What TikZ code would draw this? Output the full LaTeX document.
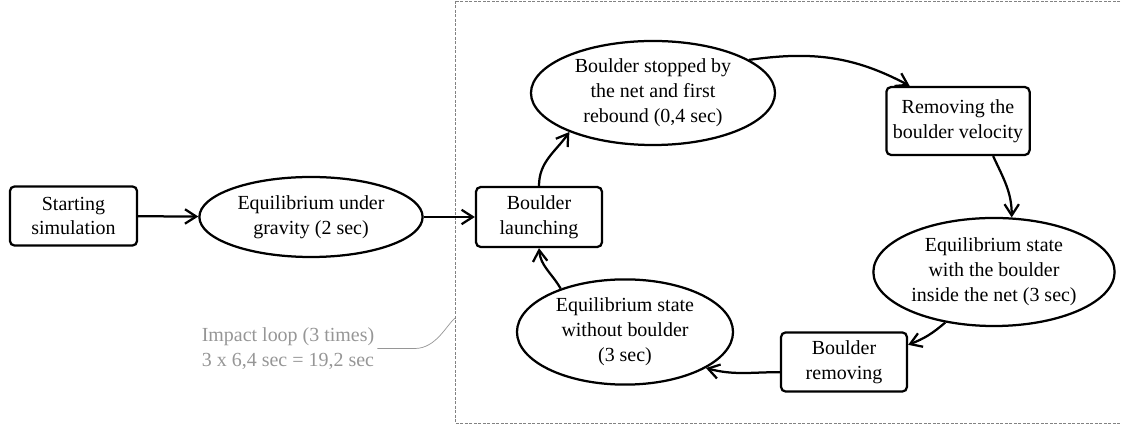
\documentclass[tikz,border=0pt]{standalone}
\usepackage{fontspec}
\setmainfont{Liberation Serif}
\usetikzlibrary{shapes.geometric,arrows.meta}

\definecolor{notegray}{RGB}{150,150,150}
\definecolor{framegray}{RGB}{130,130,130}

\begin{document}
\begin{tikzpicture}[x=0.025cm, y=-0.025cm,
    font=\fontsize{14.2}{17.7}\selectfont,
    stage/.style={rectangle, draw, line width=1.6pt, rounded corners=0.12cm, align=center, inner sep=0pt},
    state/.style={ellipse, draw, line width=1.6pt, align=center, inner sep=0pt},
    flow/.style={line width=1.6pt, -{Straight Barb[length=2.8mm,width=3.6mm]}}]
    \useasboundingbox (0,0) rectangle (1121,425);

    % impact loop frame
    \draw[framegray, line width=0.6pt, dash pattern=on 2pt off 1.2pt] (455,1) rectangle (1126,423);

                    \node (start) at (73.5,216) [stage, minimum width=3.18cm, minimum height=1.48cm] {Starting\\simulation};
                    \node (gravity) at (311,217) [state, minimum width=5.58cm, minimum height=2.0cm] {Equilibrium under\\gravity (2 sec)};
                    \node (launch) at (539,217) [stage, minimum width=3.15cm, minimum height=1.5cm] {Boulder\\launching};
                    \node (stopped) at (653,93) [state, minimum width=6.1cm, minimum height=2.6cm] {Boulder stopped by\\the net and first\\rebound (0,4 sec)};
                    \node (velocity) at (958,121) [stage, minimum width=3.58cm, minimum height=1.7cm] {Removing the\\boulder velocity};
                    \node (inside) at (994,272) [state, minimum width=6.03cm, minimum height=2.7cm] {Equilibrium state\\with the boulder\\inside the net (3 sec)};
                    \node (removing) at (844,362) [stage, minimum width=3.15cm, minimum height=1.48cm] {Boulder\\removing};
                    \node (without) at (625,332) [state, minimum width=5.4cm, minimum height=2.63cm] {Equilibrium state\\without boulder\\(3 sec)};

                    \node (loopnote) at (288,348.5) [text=notegray, align=center, inner sep=2pt] {Impact loop (3 times)\\3 x 6,4 sec = 19,2 sec};
                    \coordinate (loopedge) at (455,318);

                    \draw[flow] (start) -- (gravity);
                    \draw[flow] (gravity) -- (launch);
                    \draw[flow] (launch.north) to[out=90, in=-125] (stopped.205);
                    \draw[flow] (stopped.19) to[out=8, in=152] (velocity.144);
                    \draw[flow] (velocity.-45) to[out=-65, in=90] (inside.72);
                    \draw[flow] (inside.226) to[bend left=10] (removing.15);
                    \draw[flow] (removing.189) to[out=180, in=-15] (without.-24);
                    \draw[flow] (without.146) to[out=120, in=-85] (launch.south);

                    \draw[notegray, line width=0.5pt] (loopnote.east) -- ++(38,0) .. controls (436,348) and (446,326) .. (loopedge);
                \end{tikzpicture}
\end{document}
